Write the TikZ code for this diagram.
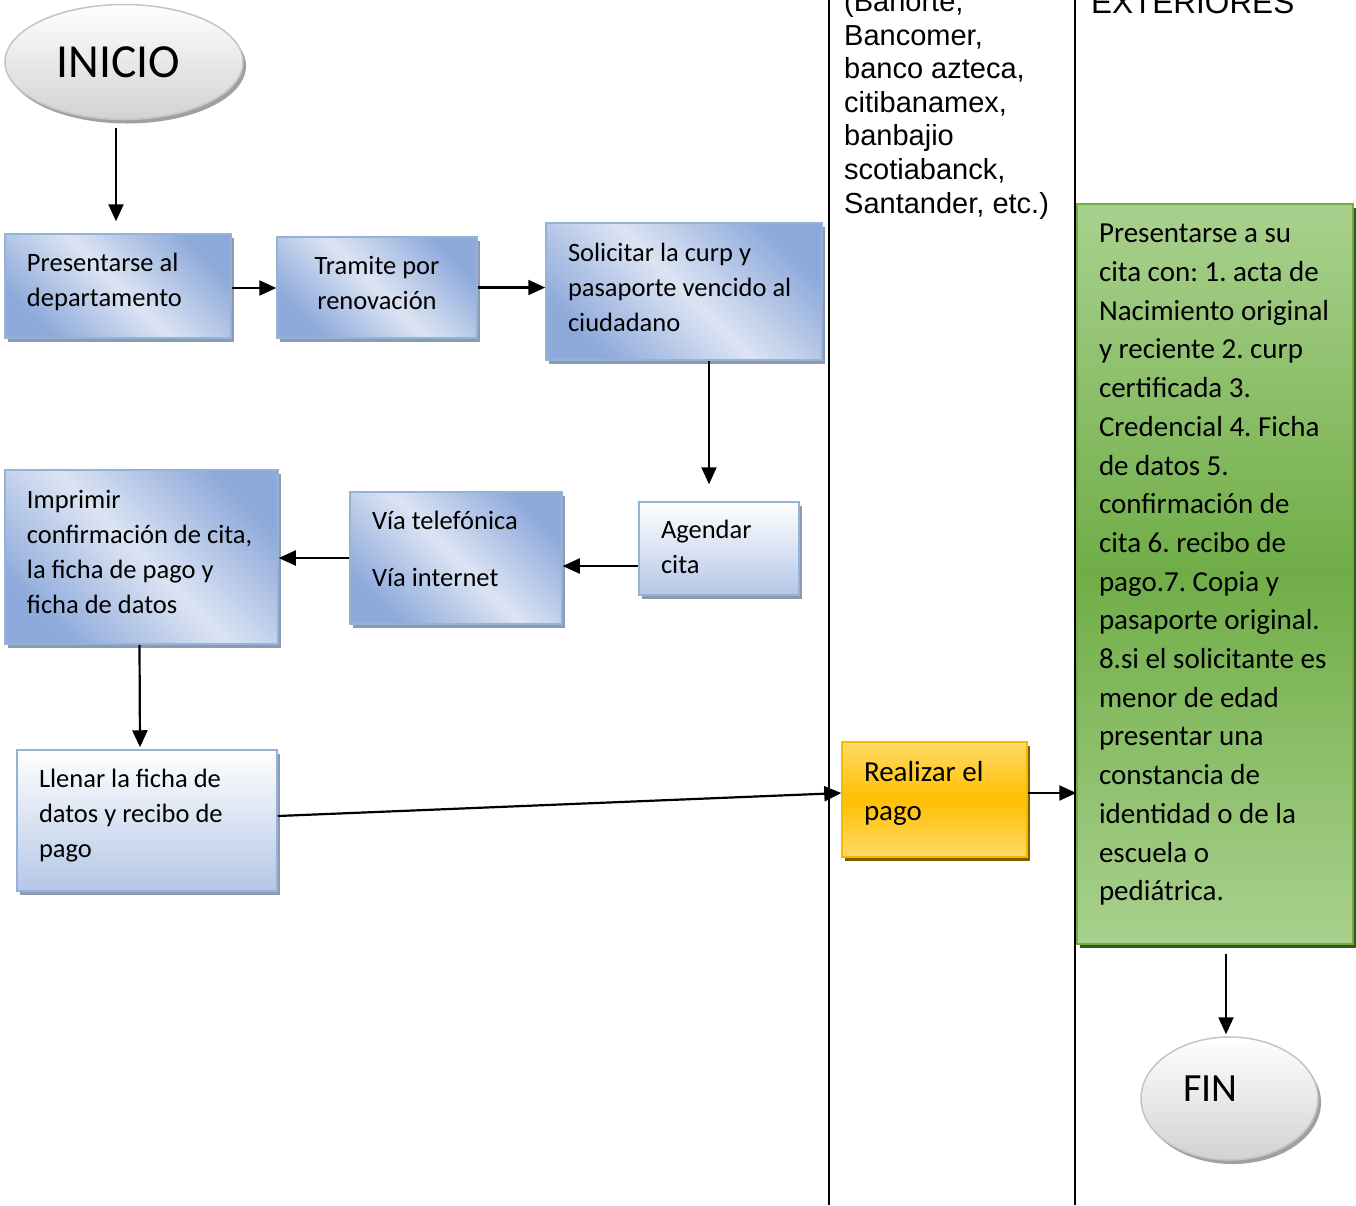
\documentclass[tikz,border=0pt]{standalone}
\usepackage{fontspec}
\usepackage{array}
\setmainfont{Carlito}
\newfontfamily\arialf{Liberation Sans}
\usetikzlibrary{shapes.geometric,arrows.meta,shadows}
\frenchspacing

\definecolor{bdark}{HTML}{8EAADB}
\definecolor{blight}{HTML}{DCE4F3}
\definecolor{bvert}{HTML}{B4C7E7}
\definecolor{bborder}{HTML}{95B3D7}
\definecolor{bshadow}{HTML}{8D9AB0}
\definecolor{olight}{HTML}{FFD966}
\definecolor{omid}{HTML}{FFC000}
\definecolor{oborder}{HTML}{F5BA00}
\definecolor{oshadow}{HTML}{7F6000}
\definecolor{glight}{HTML}{A9D18E}
\definecolor{gmid}{HTML}{70AD47}
\definecolor{gborder}{HTML}{6FAA45}
\definecolor{gshadow}{HTML}{38571F}
\definecolor{eborder}{HTML}{C4C4C4}
\definecolor{ebottom}{HTML}{D2D2D2}
\definecolor{eshadow}{HTML}{A0A0A0}

\newcommand{\tightsp}{\spaceskip=0.226em\relax\xspaceskip=0.226em\relax}
\newcommand{\lns}[2][0pt]{\begin{tabular}{@{}>{\tightsp}l@{}}#2\\[#1]\end{tabular}}
\newcommand{\lnc}[2][0pt]{\begin{tabular}{@{}>{\tightsp}c@{}}#2\\[#1]\end{tabular}}

\tikzset{
  arr/.style={line width=2.2pt,-{Triangle[length=17pt,width=15pt]}},
  lane/.style={line width=2pt},
  proc/.style={rectangle, draw=bborder, line width=1.5pt, inner xsep=22pt, inner ysep=0pt,
    align=left, font=\fontsize{26.5}{35}\selectfont,
    drop shadow={shadow xshift=3pt, shadow yshift=-4pt, fill=bshadow, opacity=1}},
  bluediag/.style={proc, top color=bdark, bottom color=bdark, middle color=blight, shading angle=-45},
  bluevert/.style={proc, top color=white, bottom color=bvert},
  orangebox/.style={proc, draw=oborder, top color=olight, bottom color=olight, middle color=omid,
    font=\fontsize{29}{39}\selectfont,
    drop shadow={shadow xshift=3pt, shadow yshift=-4pt, fill=oshadow, opacity=1}},
  greenbox/.style={proc, draw=gborder, top color=glight, bottom color=glight, middle color=gmid,
    font=\fontsize{29}{38.7}\selectfont,
    drop shadow={shadow xshift=3pt, shadow yshift=-4pt, fill=gshadow, opacity=1}},
  terminal/.style={ellipse, draw=eborder, line width=1.5pt, inner sep=0pt,
    top color=white, bottom color=ebottom,
    drop shadow={shadow xshift=3pt, shadow yshift=-4pt, fill=eshadow, opacity=1}},
  banktext/.style={anchor=base west, inner sep=0pt, align=left,
    font=\arialf\fontsize{29}{33.6}\selectfont}
}

\begin{document}
\begin{tikzpicture}[x=1pt,y=-1pt]
\useasboundingbox (0,0) rectangle (1356,1205);
\clip (0,0) rectangle (1356,1205);
\fill[white] (0,0) rectangle (1356,1205);

% lanes
\draw[lane] (829,0) -- (829,1205);
\draw[lane] (1075,0) -- (1075,1205);

\node[banktext] (bancos) at (844,213) {(Banorte,\\Bancomer,\\banco azteca,\\citibanamex,\\banbajio\\scotiabanck,\\Santander, etc.)};
\node[banktext, font=\arialf\fontsize{31.5}{36}\selectfont] (ext) at (1091,13) {EXTERIORES};

% terminals
\node[terminal, minimum width=238pt, minimum height=115pt, font=\fontsize{47.5}{50}\selectfont]
  (inicio) at (124,62) {INICIO\rule{11pt}{0pt}};
\node[terminal, minimum width=177pt, minimum height=123pt, font=\fontsize{40}{44}\selectfont,
  text height=26pt, text depth=20pt]
  (fin) at (1229.5,1098.5) {FIN\rule{38pt}{0pt}};

% process boxes
\node[bluediag, minimum width=226pt, minimum height=104pt, text width=182pt]
  (b1) at (118,286) {\lns[8pt]{Presentarse al\\departamento}};
\node[bluediag, minimum width=200pt, minimum height=101pt, text width=156pt, align=center]
  (b2) at (377,287.5) {\lnc[5pt]{Tramite por\\renovación}};
\node[bluediag, minimum width=276pt, minimum height=137pt, text width=232pt]
  (b3) at (684,291.5) {\lns[5pt]{Solicitar la curp y\\pasaporte vencido al\\ciudadano}};
\node[bluevert, minimum width=160pt, minimum height=93pt, text width=116pt]
  (b4) at (719,548.5) {\lns{Agendar\\cita}};
\node[bluediag, minimum width=212pt, minimum height=132pt, text width=168pt]
  (b5) at (456,558) {\lns[15pt]{Vía telefónica\\[22pt]Vía internet}};
\node[bluediag, minimum width=273pt, minimum height=174pt, text width=229pt]
  (b6) at (141.5,557) {\lns[7pt]{Imprimir\\confirmación de cita,\\la ficha de pago y\\ficha de datos}};
\node[bluevert, minimum width=260pt, minimum height=141pt, text width=216pt]
  (b7) at (147,820.5) {\lns[11pt]{Llenar la ficha de\\datos y recibo de\\pago}};
\node[orangebox, minimum width=185pt, minimum height=115pt, text width=141pt]
  (pago) at (934.5,799.5) {\lns[12pt]{Realizar el\\pago}};
\node[greenbox, minimum width=276pt, minimum height=740pt, text width=232pt]
  (req) at (1215,574) {\lns[20pt]{Presentarse a su\\cita con: 1. acta de\\Nacimiento original\\y reciente 2. curp\\certificada 3.\\Credencial 4. Ficha\\de datos 5.\\confirmación de\\cita 6. recibo de\\pago.7. Copia y\\pasaporte original.\\8.si el solicitante es\\menor de edad\\presentar una\\constancia de\\identidad o de la\\escuela o\\pediátrica.}};

% connectors
\draw[arr] ([xshift=-8pt,yshift=-8pt]inicio.south) -- ([xshift=-2pt,yshift=12pt]b1.north);
\draw[arr] ([yshift=-2pt]b1.east) -- ([yshift=-2pt]b1.east -| b2.west);
\draw[arr] (b2.east) -- (b2.east -| b3.west);
\draw[arr] ([xshift=25pt]b3.south) -- ([xshift=-10pt,yshift=17pt]b4.north);
\draw[arr] ([yshift=-17.5pt]b4.west) -- ([yshift=-17.5pt]b4.west -| b5.east);
\draw[arr] (b5.west) -- (b5.west -| b6.east);
\draw[arr] ([xshift=-2pt]b6.south) -- ([xshift=-7pt,yshift=2pt]b7.north);
\draw[arr] ([yshift=4.5pt]b7.east) -- ([yshift=6.5pt]pago.west);
\draw[arr] ([yshift=6.5pt]pago.east) -- ([yshift=6.5pt]pago.east -| req.west);
\draw[arr] ([xshift=11pt,yshift=-9pt]req.south) -- ([xshift=-3.5pt,yshift=2pt]fin.north);
\end{tikzpicture}
\end{document}
